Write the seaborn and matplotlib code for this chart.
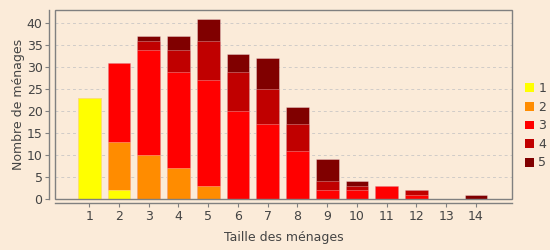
import matplotlib
matplotlib.use("Agg")
import matplotlib.pyplot as plt
from matplotlib.patches import Rectangle, Patch
import seaborn as sns
import numpy as np
import pandas as pd

# Data
sizes = ["1", "2", "3", "4", "5", "6", "7", "8", "9", "10", "11", "12", "13", "14"]
series_names = ["1", "2", "3", "4", "5"]
s1 = [23, 2, 0, 0, 0, 0, 0, 0, 0, 0, 0, 0, 0, 0]
s2 = [0, 11, 10, 7, 3, 0, 0, 0, 0, 0, 0, 0, 0, 0]
s3 = [0, 18, 24, 22, 24, 20, 17, 11, 2, 2, 3, 1, 0, 0]
s4 = [0, 0, 2, 5, 9, 9, 8, 6, 2, 1, 0, 1, 0, 0]
s5 = [0, 0, 1, 3, 5, 4, 7, 4, 5, 1, 0, 0, 0, 1]
colors = ["#FFFF00", "#FF8C00", "#FF0000", "#C00000", "#800000"]

bg = "#FBEBD9"
sns.set_theme(style="white")
plt.rcParams['font.family'] = ['DejaVu Sans']

fig = plt.figure(figsize=(5.5, 2.5), dpi=100, facecolor=bg)
ax = fig.add_axes([55/550, 1-199/250, 457/550, 189/250])
ax.set_facecolor(bg)

series = [s1, s2, s3, s4, s5]
cum = np.cumsum(np.array(series), axis=0)
df = pd.DataFrame({"taille": sizes})
for i in range(4, -1, -1):
    df["v"] = cum[i]
    sns.barplot(data=df, x="taille", y="v", color=colors[i], saturation=1,
                width=0.77, ax=ax, edgecolor=(1, 1, 1, 0.35), linewidth=0.6,
                order=sizes, zorder=2)

ax.set_xlim(-1.15, 14.21)
ax.set_ylim(0, 43)
ax.set_yticks(range(0, 41, 5))
ax.yaxis.grid(True, linestyle=(0, (3, 3)), color="#D0CCC8", linewidth=0.7, zorder=0)
ax.set_axisbelow(True)

for s in ["top", "right"]:
    ax.spines[s].set_visible(False)
ax.spines["left"].set_position(("outward", 4))
ax.spines["bottom"].set_position(("outward", 3))
for s in ["left", "bottom"]:
    ax.spines[s].set_color("#808080")
    ax.spines[s].set_linewidth(1.0)
ax.add_patch(Rectangle((0, 0), 1, 1, transform=ax.transAxes, fill=False,
                       edgecolor="#808080", linewidth=1.0, clip_on=False, zorder=5))

ax.tick_params(axis="both", which="both", direction="out", length=3, width=0.8,
               color="#808080", labelsize=9, labelcolor="#444444", pad=2,
               left=True, bottom=True)
ax.set_xlabel("Taille des ménages", fontsize=9, color="#444444", labelpad=6)
ax.set_ylabel("Nombre de ménages", fontsize=9, color="#444444", labelpad=1)

handles = [Patch(facecolor=c, edgecolor="none") for c in colors]
fig.legend(handles, series_names, loc="center left", bbox_to_anchor=(0.955, 0.497),
           frameon=False, fontsize=9, handlelength=0.7, handleheight=0.7,
           handletextpad=0.35, labelspacing=0.45, labelcolor="#444444",
           borderpad=0, borderaxespad=0)

fig.savefig("out.png", dpi=100, facecolor=bg)
